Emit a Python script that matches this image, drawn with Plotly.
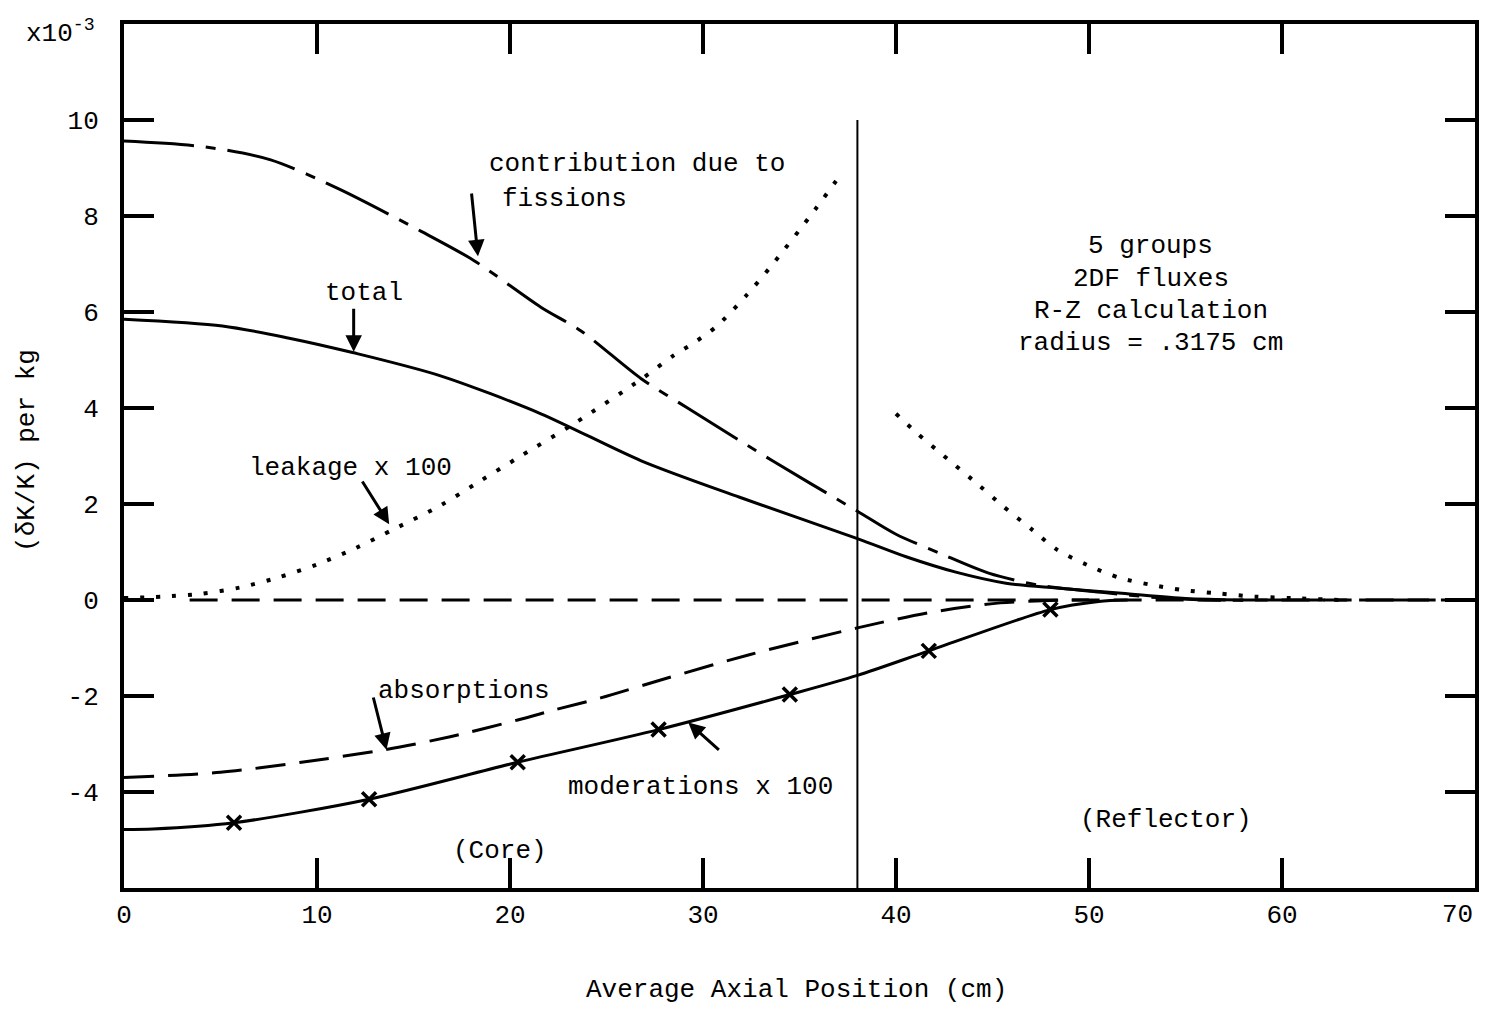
import plotly.graph_objects as go

# ---- data ----
fission_x = [0, 4.2, 7.6, 11.1, 15.4, 18.1, 21.6, 23.7, 26.8, 29.2, 33.6, 38.0, 40.0, 42.3, 44.8, 47.4, 50.9, 53.5, 56, 60, 65, 70]
fission_y = [9.56, 9.44, 9.17, 8.57, 7.68, 7.08, 6.1, 5.6, 4.61, 4.0, 2.9, 1.85, 1.37, 0.97, 0.56, 0.31, 0.15, 0.05, 0, 0, 0, 0]

total_x = [0, 5.1, 8.5, 11.9, 16.4, 21.6, 26.8, 31.9, 38.0, 40.6, 43.1, 45.7, 48.3, 51.7, 55, 58]
total_y = [5.85, 5.71, 5.46, 5.15, 4.67, 3.88, 2.90, 2.14, 1.28, 0.89, 0.58, 0.35, 0.25, 0.14, 0.03, 0]

leak_core_x = [0, 2, 4, 6, 8, 10, 12, 14, 16.4, 18.5, 20.6, 23.3, 26.8, 28.5, 29.5, 30.7, 32.3, 33.6, 35.8, 37.2]
leak_core_y = [0.04, 0.07, 0.13, 0.26, 0.47, 0.74, 1.08, 1.48, 1.97, 2.49, 3.01, 3.67, 4.6, 5.1, 5.35, 5.7, 6.37, 6.99, 8.13, 8.9]

leak_refl_x = [40.0, 41.1, 42.4, 44.3, 45.5, 47.1, 48.3, 49.9, 51.6, 53.3, 54.8, 56.6, 58.6, 60.5, 63.0]
leak_refl_y = [3.88, 3.47, 3.03, 2.39, 1.97, 1.45, 1.06, 0.73, 0.46, 0.31, 0.21, 0.14, 0.07, 0.04, 0.0]

absorb_x = [0, 5, 9.2, 13.5, 16.9, 20.4, 22.4, 24.7, 28.2, 32.4, 38.0, 41.9, 45.4, 48, 50]
absorb_y = [-3.7, -3.59, -3.38, -3.12, -2.85, -2.5, -2.28, -2.04, -1.62, -1.14, -0.58, -0.25, -0.06, -0.01, 0]

moder_x = [0, 1.5, 5.7, 12.7, 20.4, 27.7, 34.5, 38.0, 41.7, 48.0, 50.5, 52.0]
moder_y = [-4.78, -4.77, -4.64, -4.15, -3.38, -2.70, -1.97, -1.57, -1.06, -0.2, -0.03, 0.0]
# the "x" symbols sit on these points of the moderation curve
moder_mark_x = [5.7, 12.7, 20.4, 27.7, 34.5, 41.7, 48.0]
moder_mark_y = [-4.64, -4.15, -3.38, -2.70, -1.97, -1.06, -0.2]

baseline_x = [3.4, 70]
baseline_y = [0, 0]

core_edge_x = [38, 38]
core_edge_y = [-6, 10]

x_ticks = [0, 10, 20, 30, 40, 50, 60]
x_tick_text = ["0", "10", "20", "30", "40", "50", "60"]
x_last_value = 70
x_last_label = "70"   # drawn right-aligned to the axis end so it stays inside the page
y_ticks = [-4, -2, 0, 2, 4, 6, 8, 10]
y_tick_text = ["-4", "-2", "0", "2", "4", "6", "8", "10"]

FONT = "Liberation Mono, Courier New, monospace"
BLACK = "#000000"

fig = go.Figure()

fig.add_trace(go.Scatter(x=baseline_x, y=baseline_y, mode="lines",
                         line=dict(color=BLACK, width=3, dash="28px,14px")))
fig.add_trace(go.Scatter(x=core_edge_x, y=core_edge_y, mode="lines",
                         line=dict(color=BLACK, width=2)))
fig.add_trace(go.Scatter(x=fission_x, y=fission_y, mode="lines",
                         line=dict(color=BLACK, width=3, shape="spline", smoothing=0.8,
                                   dash="70px,12px,10px,12px")))
fig.add_trace(go.Scatter(x=total_x, y=total_y, mode="lines",
                         line=dict(color=BLACK, width=3, shape="spline", smoothing=0.8)))
fig.add_trace(go.Scatter(x=leak_core_x, y=leak_core_y, mode="lines",
                         line=dict(color=BLACK, width=4, shape="spline", smoothing=0.8,
                                   dash="4px,12px")))
fig.add_trace(go.Scatter(x=leak_refl_x, y=leak_refl_y, mode="lines",
                         line=dict(color=BLACK, width=4, shape="spline", smoothing=0.8,
                                   dash="4px,12px")))
fig.add_trace(go.Scatter(x=absorb_x, y=absorb_y, mode="lines",
                         line=dict(color=BLACK, width=3, shape="spline", smoothing=0.8,
                                   dash="30px,14px")))
fig.add_trace(go.Scatter(x=moder_x, y=moder_y, mode="lines",
                         line=dict(color=BLACK, width=3, shape="spline", smoothing=0.8)))
fig.add_trace(go.Scatter(x=moder_mark_x, y=moder_mark_y, mode="markers",
                         marker=dict(symbol="x-thin", size=14, color=BLACK,
                                     line=dict(color=BLACK, width=3.5))))

def txt(x, y, s, xanchor="center", size=26):
    fig.add_annotation(x=x, y=y, text=s, showarrow=False, xanchor=xanchor, yanchor="middle",
                       font=dict(family=FONT, size=size, color=BLACK))

def arrow(x0, y0, x1, y1):
    fig.add_annotation(x=x1, y=y1, ax=x0, ay=y0, axref="x", ayref="y", text="",
                       showarrow=True, arrowhead=2, arrowsize=1.1, arrowwidth=3,
                       arrowcolor=BLACK)

txt(26.6, 9.09, "contribution due to")
txt(19.5, 8.36, "fissions", xanchor="left")
txt(12.45, 6.39, "total")
txt(11.73, 2.76, "leakage x 100")
txt(13.07, -1.89, "absorptions", xanchor="left")
txt(29.86, -3.9, "moderations x 100")
txt(19.48, -5.23, "(Core)")
txt(53.99, -4.59, "(Reflector)")
txt(53.2, 7.37, "5 groups")
txt(53.2, 6.68, "2DF fluxes")
txt(53.2, 6.02, "R-Z calculation")
txt(53.2, 5.35, "radius = .3175 cm")

arrow(18.0, 8.5, 18.34, 7.16)
arrow(11.9, 6.1, 11.9, 5.17)
arrow(12.3, 2.5, 13.74, 1.58)
arrow(12.9, -2.0, 13.6, -3.12)
arrow(30.9, -3.15, 29.24, -2.55)

# last x tick label
fig.add_annotation(x=x_last_value, xref="x", yref="paper", y=-0.0315, text=x_last_label,
                   showarrow=False, xanchor="right", yanchor="middle",
                   font=dict(family=FONT, size=26, color=BLACK))

# axis-side texts
fig.add_annotation(xref="paper", yref="paper", x=-0.020, y=0.991, text="x10<sup>-3</sup>",
                   showarrow=False, xanchor="right", yanchor="middle",
                   font=dict(family=FONT, size=26, color=BLACK))
fig.add_annotation(xref="paper", yref="paper", x=-0.0718, y=0.507, text="(δK/K) per kg",
                   textangle=-90, showarrow=False, xanchor="center", yanchor="middle",
                   font=dict(family=FONT, size=26, color=BLACK))
fig.add_annotation(xref="paper", yref="paper", x=0.498, y=-0.1185, text="Average Axial Position (cm)",
                   showarrow=False, xanchor="center", yanchor="middle",
                   font=dict(family=FONT, size=26, color=BLACK))

axis_common = dict(showline=True, linewidth=4, linecolor=BLACK, mirror="ticks",
                   ticks="inside", ticklen=30, tickwidth=4, tickcolor=BLACK,
                   showgrid=False, zeroline=False, automargin=False,
                   tickfont=dict(family=FONT, size=26, color=BLACK))

fig.update_xaxes(range=[0, 70], tickvals=x_ticks, ticktext=x_tick_text,
                 ticklabelstandoff=0, **axis_common)
fig.update_yaxes(range=[-6, 12], tickvals=y_ticks, ticktext=y_tick_text,
                 ticklabelstandoff=16, **axis_common)

# the page body has an 8px margin, so the figure is sized to fit inside it
fig.update_layout(width=1472, height=998, showlegend=False,
                  margin=dict(l=116, r=5, t=16, b=118),
                  plot_bgcolor="white", paper_bgcolor="white",
                  font=dict(family=FONT, color=BLACK))

fig.write_html("out.html")
